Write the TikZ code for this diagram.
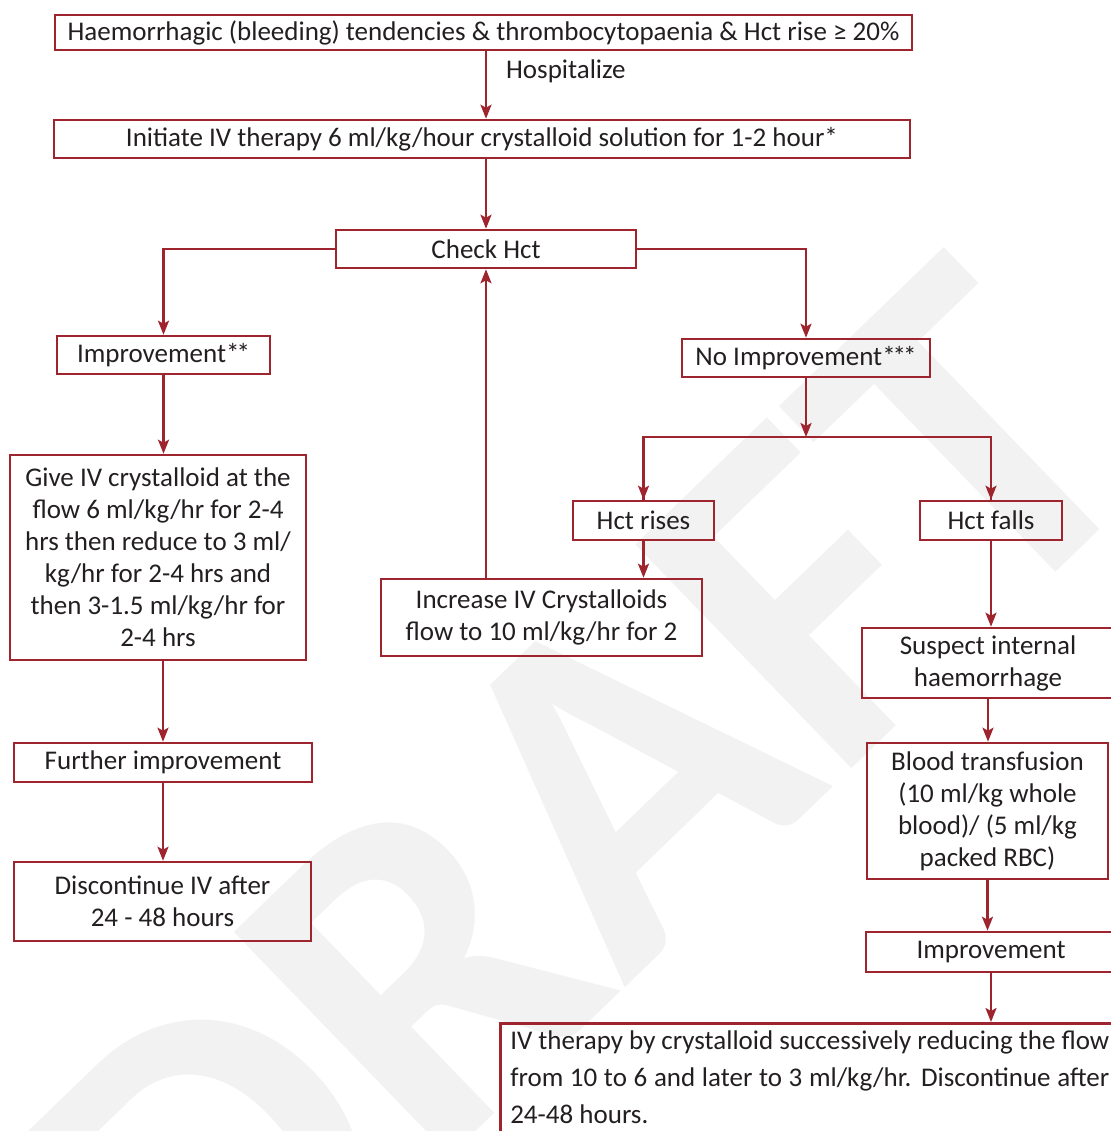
\documentclass[tikz,border=0pt]{standalone}
\usepackage{fontspec}
\setmainfont{Carlito}
\usetikzlibrary{arrows.meta}
\definecolor{flowred}{RGB}{158,36,46}
\definecolor{inkgray}{RGB}{35,31,32}
\definecolor{wmgray}{RGB}{242,242,242}
\newcommand{\stars}[1]{\ifcase#1\or*\or*\kern-3pt*\or*\kern-3pt*\kern-3pt*\fi}
\tikzset{
  box/.style={draw=flowred, line width=2.6pt, text=inkgray, align=center,
    inner sep=2pt, font=\fontsize{27}{32}\selectfont},
  arr/.style={draw=flowred, line width=2.3pt,
    -{Stealth[length=14pt, width=11pt, inset=3pt]}},
  link/.style={draw=flowred, line width=2.3pt},
  lbl/.style={text=inkgray, font=\fontsize{27}{32}\selectfont, inner sep=0pt}
}
\begin{document}
\begin{tikzpicture}[x=1pt, y=-1pt]
\useasboundingbox (0,0) rectangle (1110,1131);
% watermark
\node[rotate=44, text=wmgray, inner sep=0pt,
      font=\fontsize{480}{480}\selectfont\bfseries] (wm) at (580,815) {DRAFT};

% main column
\node[box, minimum width=857, minimum height=35] (top) at (483.5,32.5)
  {Haemorrhagic (bleeding) tendencies \& thrombocytopaenia \& Hct rise ≥ 20\%};
\node[box, minimum width=856, minimum height=38] (init) at (482,139)
  {Initiate IV therapy 6 ml/kg/hour crystalloid solution for 1-2 hour\stars1};
\node[box, minimum width=300, minimum height=38] (check) at (486,249) {Check Hct};

% left branch
\node[box, minimum width=213, minimum height=38] (imp) at (163.5,355) {Improvement\stars2};
\node[box, minimum width=296, minimum height=205] (give) at (158,557.5)
  {Give IV crystalloid at the\\ flow 6 ml/kg/hr for 2-4\\ hrs then reduce to 3 ml/\\
   kg/hr for 2-4 hrs and\\ then 3-1.5 ml/kg/hr for\\ 2-4 hrs};
\node[box, minimum width=298, minimum height=39] (further) at (163,762.5) {Further improvement};
\node[box, minimum width=297, minimum height=79] (disc) at (162.5,901.5)
  {Discontinue IV after\\ 24 - 48 hours};

% right branch
\node[box, minimum width=248, minimum height=38] (noimp) at (806,358) {No Improvement\stars3};
\coordinate (junc) at (806,437);
\node[box, minimum width=141, minimum height=39] (rises) at (643.5,520.5) {Hct rises};
\node[box, minimum width=142, minimum height=39] (falls) at (991,520.5) {Hct falls};
\node[box, minimum width=321, minimum height=77] (incr) at (541.5,617.5)
  {Increase IV Crystalloids\\ flow to 10 ml/kg/hr for 2};
\node[box, minimum width=252, minimum height=70] (susp) at (988,663)
  {Suspect internal\\ haemorrhage};
\node[box, minimum width=241, minimum height=136] (blood) at (987.5,811)
  {Blood transfusion\\ (10 ml/kg whole\\ blood)/ (5 ml/kg\\ packed RBC)};
\node[box, minimum width=250, minimum height=40] (imp2) at (991,952) {Improvement};
\node[box, anchor=north west, align=left, inner xsep=10pt, inner ysep=7pt,
      font=\fontsize{27}{37}\selectfont] (final) at (499,1022)
  {\parbox[t][150pt][t]{640pt}{%
    \makebox[599pt][s]{IV therapy by crystalloid successively reducing the flow}\\
    \makebox[599pt][s]{from 10 to 6 and later to 3 ml/kg/hr. Discontinue after}\\
    24-48 hours.}};

% connectors
\draw[arr] (check.north |- top.south) -- (check.north |- init.north)
  node[lbl, pos=0.3, anchor=west, xshift=19pt] (hosp) {Hospitalize};
\draw[arr] (check.north |- init.south) -- (check.north);
\draw[arr] (check.west) -| (imp.north);
\draw[arr] (check.east) -| (noimp.north);
\draw[arr] (imp.south) -- (imp.south |- give.north);
\draw[arr] (further.north |- give.south) -- (further.north);
\draw[arr] (further.south) -- (further.south |- disc.north);
\draw[arr] (noimp.south) -- (junc);
\draw[link] (junc) -| (rises.north);
\draw[link] (junc) -| (falls.north);
\draw[arr] (junc -| rises.north) -- (rises.north);
\draw[arr] (junc -| falls.north) -- (falls.north);
\draw[arr] (rises.south) -- (rises.south |- incr.north);
\draw[arr] (check.south |- incr.north) -- (check.south);
\draw[arr] (falls.south) -- (falls.south |- susp.north);
\draw[arr] (susp.south) -- (susp.south |- blood.north);
\draw[arr] (blood.south) -- (blood.south |- imp2.north);
\draw[arr] (imp2.south) -- (imp2.south |- final.north);
\end{tikzpicture}
\end{document}
